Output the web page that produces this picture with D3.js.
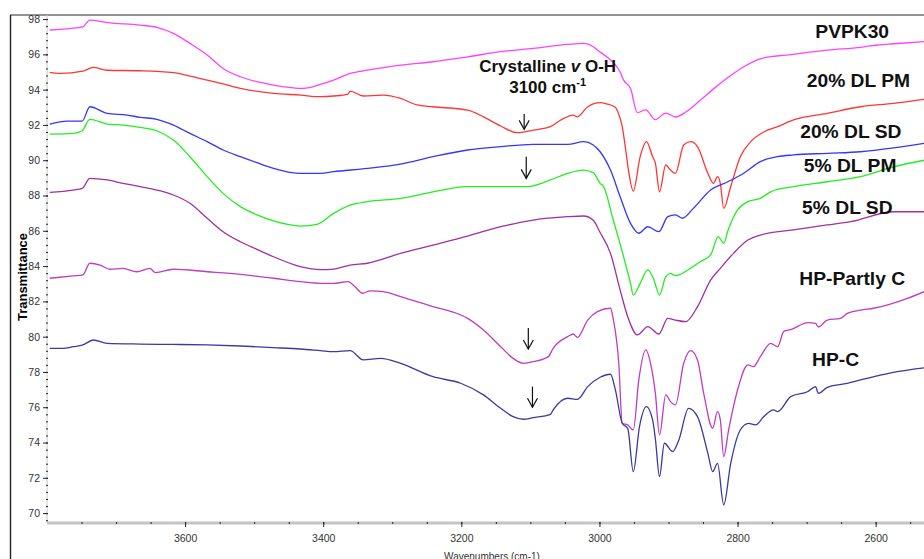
<!DOCTYPE html>
<html>
<head>
<meta charset="utf-8">
<script src="https://cdn.jsdelivr.net/npm/d3@7"></script>
<style>
  body { margin: 0; background: #fff; }
  svg { display: block; font-family: "Liberation Sans", Arial, sans-serif; }
</style>
</head>
<body>
<div id="chart"></div>
<script>
// spectra: [wavenumber, transmittance]
const names = ["PVPK30", "20% DL PM", "20% DL SD", "5% DL PM", "5% DL SD", "HP-Partly C", "HP-C"];

const pvpk30 = [[3796,97.38],[3748,97.56],[3738,97.94],[3713,97.8],[3665,97.66],[3641,97.53],[3617,97.19],[3593,96.62],[3568,95.96],[3545,95.2],[3520,94.73],[3496,94.45],[3472,94.26],[3443,94.1],[3433,94.07],[3423,94.1],[3404,94.3],[3385,94.54],[3361,94.92],[3336,95.1],[3288,95.39],[3241,95.58],[3191,95.86],[3143,96.15],[3096,96.34],[3046,96.56],[3023,96.62],[3009,96.43],[3003,96.24],[2984,95.68],[2970,95.0],[2965,94.54],[2955,94.07],[2945,92.7],[2933,92.85],[2919,92.3],[2904,92.67],[2890,92.45],[2875,92.73],[2854,93.4],[2833,94.1],[2810,94.8],[2791,95.3],[2767,95.75],[2719,96.0],[2670,96.24],[2622,96.4],[2597,96.53],[2574,96.6],[2530,96.72]];

const dl20pm = [[3796,94.98],[3781,94.92],[3748,95.05],[3733,95.26],[3713,95.1],[3665,95.07],[3617,94.96],[3593,94.77],[3568,94.54],[3545,94.32],[3520,94.07],[3472,93.79],[3433,93.69],[3404,93.6],[3385,93.64],[3364,93.75],[3361,93.92],[3342,93.64],[3313,93.69],[3288,93.5],[3264,93.13],[3241,93.03],[3191,92.84],[3168,92.46],[3143,91.94],[3119,91.56],[3096,91.71],[3071,91.9],[3056,92.28],[3038,92.56],[3032,92.46],[3017,93.03],[2999,93.26],[2990,93.2],[2977,93.0],[2972,92.6],[2967,91.9],[2962,90.6],[2958,89.44],[2951,88.25],[2941,90.2],[2932,91.05],[2923,90.2],[2919,89.83],[2913,88.21],[2904,89.73],[2897,89.44],[2890,89.26],[2878,90.86],[2868,91.05],[2858,90.77],[2843,89.26],[2835,88.69],[2829,89.07],[2825,88.69],[2820,87.27],[2810,88.5],[2796,90.2],[2781,91.05],[2762,91.6],[2742,91.9],[2719,92.28],[2670,92.66],[2622,93.03],[2574,93.22],[2530,93.45]];

const dl20sd = [[3796,92.05],[3771,92.22],[3749,92.22],[3738,93.03],[3713,92.66],[3684,92.56],[3665,92.43],[3641,92.32],[3617,91.99],[3593,91.52],[3568,91.05],[3545,90.58],[3520,90.2],[3496,89.86],[3472,89.54],[3448,89.31],[3433,89.26],[3404,89.26],[3385,89.35],[3336,89.54],[3288,89.78],[3241,90.2],[3191,90.58],[3143,90.77],[3096,90.9],[3046,90.9],[3023,91.05],[3009,90.86],[2999,90.48],[2984,89.44],[2970,87.93],[2955,86.42],[2943,85.86],[2930,86.23],[2914,85.95],[2901,86.8],[2890,86.9],[2880,86.71],[2864,87.27],[2839,88.31],[2814,88.78],[2791,89.26],[2767,89.92],[2742,90.2],[2719,90.3],[2670,90.39],[2622,90.48],[2574,90.7],[2530,90.96]];

const dl5pm = [[3796,91.48],[3762,91.52],[3749,91.67],[3738,92.32],[3713,92.05],[3690,91.99],[3665,91.86],[3641,91.67],[3617,91.14],[3593,90.2],[3568,89.07],[3545,88.12],[3520,87.37],[3496,86.9],[3472,86.56],[3433,86.27],[3409,86.36],[3385,86.99],[3361,87.46],[3336,87.65],[3288,87.84],[3241,88.21],[3191,88.5],[3143,88.5],[3104,88.5],[3071,88.88],[3046,89.26],[3023,89.44],[3009,89.3],[2999,88.69],[2994,88.5],[2980,86.61],[2965,84.53],[2955,83.02],[2951,82.36],[2941,83.02],[2930,83.78],[2922,83.31],[2913,82.36],[2904,83.4],[2897,83.59],[2890,83.46],[2872,83.78],[2854,84.25],[2839,84.63],[2828,85.67],[2820,85.29],[2814,86.0],[2800,87.18],[2785,87.65],[2767,87.84],[2752,88.21],[2719,88.5],[2670,88.78],[2622,89.07],[2574,89.63],[2530,90.0]];

const dl5sd = [[3796,88.18],[3762,88.31],[3749,88.4],[3738,88.97],[3713,88.88],[3690,88.69],[3665,88.5],[3641,88.31],[3617,88.03],[3593,87.56],[3568,86.71],[3545,85.95],[3520,85.38],[3496,84.95],[3472,84.53],[3433,83.97],[3404,83.8],[3385,83.83],[3361,84.06],[3336,84.16],[3288,84.72],[3241,85.19],[3191,85.7],[3143,86.23],[3096,86.61],[3046,86.8],[3023,86.84],[3009,86.6],[2999,85.9],[2984,84.72],[2970,82.64],[2959,81.13],[2945,80.1],[2930,80.57],[2914,80.15],[2901,81.04],[2890,80.94],[2875,80.85],[2858,81.7],[2839,83.21],[2825,83.87],[2806,84.72],[2785,85.48],[2767,85.76],[2719,86.05],[2670,86.33],[2636,86.52],[2574,87.08],[2530,87.08]];

const hpPartly = [[3796,83.31],[3762,83.44],[3748,83.5],[3738,84.16],[3723,84.06],[3709,83.82],[3690,83.87],[3670,83.68],[3651,83.87],[3643,83.63],[3617,83.82],[3568,83.68],[3520,83.53],[3472,83.31],[3433,83.12],[3404,83.02],[3385,83.02],[3364,83.12],[3354,82.83],[3343,82.46],[3332,82.6],[3313,82.55],[3288,82.27],[3241,81.7],[3201,81.23],[3191,81.04],[3168,80.38],[3143,79.43],[3125,78.77],[3110,78.49],[3096,78.58],[3074,78.87],[3067,79.34],[3046,80.0],[3038,80.15],[3032,79.96],[3017,80.94],[3003,81.42],[2984,81.61],[2980,81.0],[2972,78.49],[2967,75.09],[2959,75.0],[2951,74.71],[2943,77.55],[2933,79.25],[2926,78.49],[2919,76.79],[2913,74.43],[2904,76.7],[2897,76.32],[2890,76.13],[2878,78.49],[2868,79.21],[2858,78.68],[2849,76.79],[2836,74.81],[2829,75.75],[2825,75.3],[2820,73.2],[2813,74.7],[2800,76.98],[2785,78.4],[2777,78.3],[2767,78.87],[2752,79.62],[2742,79.43],[2733,80.3],[2723,80.4],[2698,80.8],[2687,80.75],[2683,80.55],[2670,80.94],[2651,81.04],[2641,81.32],[2622,81.51],[2603,81.61],[2554,82.17],[2530,82.55]];

const hpC = [[3796,79.34],[3777,79.34],[3762,79.43],[3748,79.53],[3733,79.81],[3713,79.62],[3665,79.58],[3617,79.56],[3568,79.53],[3520,79.47],[3472,79.38],[3433,79.3],[3404,79.21],[3385,79.15],[3361,79.21],[3342,78.68],[3317,78.77],[3288,78.49],[3241,77.73],[3201,77.36],[3168,76.7],[3143,75.94],[3125,75.47],[3110,75.32],[3096,75.41],[3071,75.6],[3067,75.85],[3046,76.51],[3032,76.45],[3017,77.17],[2999,77.7],[2984,77.87],[2977,77.0],[2967,75.09],[2959,74.8],[2951,72.35],[2942,74.9],[2932,76.03],[2923,75.28],[2919,74.2],[2913,72.07],[2906,73.96],[2894,73.49],[2885,74.15],[2871,75.94],[2858,75.47],[2843,73.39],[2836,72.35],[2829,72.82],[2820,70.47],[2810,72.8],[2796,74.71],[2784,75.09],[2774,75.0],[2762,75.47],[2748,75.85],[2742,75.75],[2723,76.6],[2698,76.89],[2687,77.17],[2683,76.79],[2670,77.13],[2646,77.32],[2622,77.55],[2578,77.95],[2530,78.23]];

const series = [pvpk30, dl20pm, dl20sd, dl5pm, dl5sd, hpPartly, hpC];
const colors = ["#ff40ff", "#ff3535", "#3535ff", "#22ee22", "#a0309f", "#c03cc0", "#3a3aa0"];

const xTicks = [3600, 3400, 3200, 3000, 2800, 2600];
const yTicks = [70, 72, 74, 76, 78, 80, 82, 84, 86, 88, 90, 92, 94, 96, 98];

// where the curve names sit: [wavenumber, transmittance] of the text centre/baseline
const labelAt = [[2634,96.93],[2625,94.15],[2636,91.26],[2637,89.33],[2641,86.95],[2634,82.93],[2658,78.34]];
// the marked O-H band: arrow [wavenumber, top, tip]
const arrows = [[3109,92.62,91.75],[3106,90.2,88.97],[3103,80.49,79.3],[3097,77.17,76.0]];

const W = 924, H = 559;
const x = d3.scaleLinear().domain([3800, 2530]).range([47, 924]);
const y = d3.scaleLinear().domain([69.44, 98.23]).range([523, 15]);

const svg = d3.select("#chart").append("svg")
  .attr("width", W).attr("height", H);

// outer frame
svg.append("line").attr("x1", 10).attr("x2", W).attr("y1", 15).attr("y2", 15)
  .attr("stroke", "#707070").attr("stroke-width", 1.6);
svg.append("line").attr("x1", 10.5).attr("x2", 10.5).attr("y1", 15).attr("y2", H)
  .attr("stroke", "#222").attr("stroke-width", 1.4);

// x axis
svg.append("line").attr("x1", 47).attr("x2", W).attr("y1", 523).attr("y2", 523)
  .attr("stroke", "#c4c4c4").attr("stroke-width", 3);
svg.append("g").attr("transform", "translate(0,522)")
  .call(d3.axisBottom(x).tickValues(d3.range(3750, 2529, -50)).tickSize(2).tickFormat(""))
  .call(g => g.select(".domain").remove())
  .call(g => g.selectAll("line").attr("stroke", "#222"));
const xAxis = svg.append("g").attr("transform", "translate(0,522)")
  .call(d3.axisBottom(x).tickValues(xTicks).tickSize(5).tickPadding(8).tickFormat(d3.format("d")));
xAxis.select(".domain").remove();
xAxis.selectAll("line").attr("stroke", "#222");
xAxis.selectAll("text").attr("font-size", 10.5).attr("fill", "#333")
  .attr("font-family", "'Liberation Sans', Arial, sans-serif");

// y axis
svg.append("line").attr("x1", 47).attr("x2", 47).attr("y1", 15).attr("y2", 523)
  .attr("stroke", "#c8c8c8").attr("stroke-width", 1);
svg.append("g").attr("transform", "translate(48,0)")
  .call(d3.axisLeft(y).tickValues(d3.range(69.6, 98.3, 0.4)).tickSize(2).tickFormat(""))
  .call(g => g.select(".domain").remove())
  .call(g => g.selectAll("line").attr("stroke", "#222"));
const yAxis = svg.append("g").attr("transform", "translate(48,0)")
  .call(d3.axisLeft(y).tickValues(yTicks).tickSize(5).tickPadding(3));
yAxis.select(".domain").remove();
yAxis.selectAll("line").attr("stroke", "#222");
yAxis.selectAll("text").attr("font-size", 10.5).attr("fill", "#333")
  .attr("font-family", "'Liberation Sans', Arial, sans-serif");

svg.append("text")
  .attr("transform", "translate(27,277) rotate(-90)")
  .attr("text-anchor", "middle").attr("font-size", 13).attr("font-weight", "bold")
  .text("Transmittance");
svg.append("text")
  .attr("x", 492).attr("y", 560).attr("text-anchor", "middle")
  .attr("font-size", 10).attr("fill", "#333")
  .text("Wavenumbers (cm-1)");

// spectra
const line = d3.line().x(d => x(d[0])).y(d => y(d[1])).curve(d3.curveMonotoneX);
svg.append("g").selectAll("path").data(series).join("path")
  .attr("d", line)
  .attr("fill", "none")
  .attr("stroke", (d, i) => colors[i])
  .attr("stroke-width", 1.3)
  .attr("stroke-linejoin", "round");

// curve names
svg.append("g").selectAll("text").data(names).join("text")
  .attr("transform", (d, i) => `translate(${x(labelAt[i][0])},${y(labelAt[i][1])}) scale(1.1,1)`)
  .attr("text-anchor", "middle")
  .attr("font-size", 17.5).attr("font-weight", "bold").attr("fill", "#111")
  .text(d => d);

// annotation
const note = svg.append("text").attr("x", x(3075)).attr("y", 72)
  .attr("text-anchor", "middle").attr("font-size", 17).attr("font-weight", "bold").attr("fill", "#111");
note.append("tspan").text("Crystalline ");
note.append("tspan").attr("font-style", "italic").text("v");
note.append("tspan").text(" O-H");
const note2 = svg.append("text").attr("x", x(3075)).attr("y", 93)
  .attr("text-anchor", "middle").attr("font-size", 17).attr("font-weight", "bold").attr("fill", "#111");
note2.append("tspan").text("3100 cm");
note2.append("tspan").attr("font-size", 11).attr("dy", -7).text("-1");

const ag = svg.append("g").attr("stroke", "#111").attr("stroke-width", 1.2).attr("fill", "none");
arrows.forEach(a => {
  const ax = x(a[0]), y0 = y(a[1]), y1 = y(a[2]);
  ag.append("line").attr("x1", ax).attr("x2", ax).attr("y1", y0).attr("y2", y1);
  ag.append("path").attr("d", `M${ax - 5},${y1 - 9}L${ax},${y1}L${ax + 5},${y1 - 9}`);
});
</script>
</body>
</html>
